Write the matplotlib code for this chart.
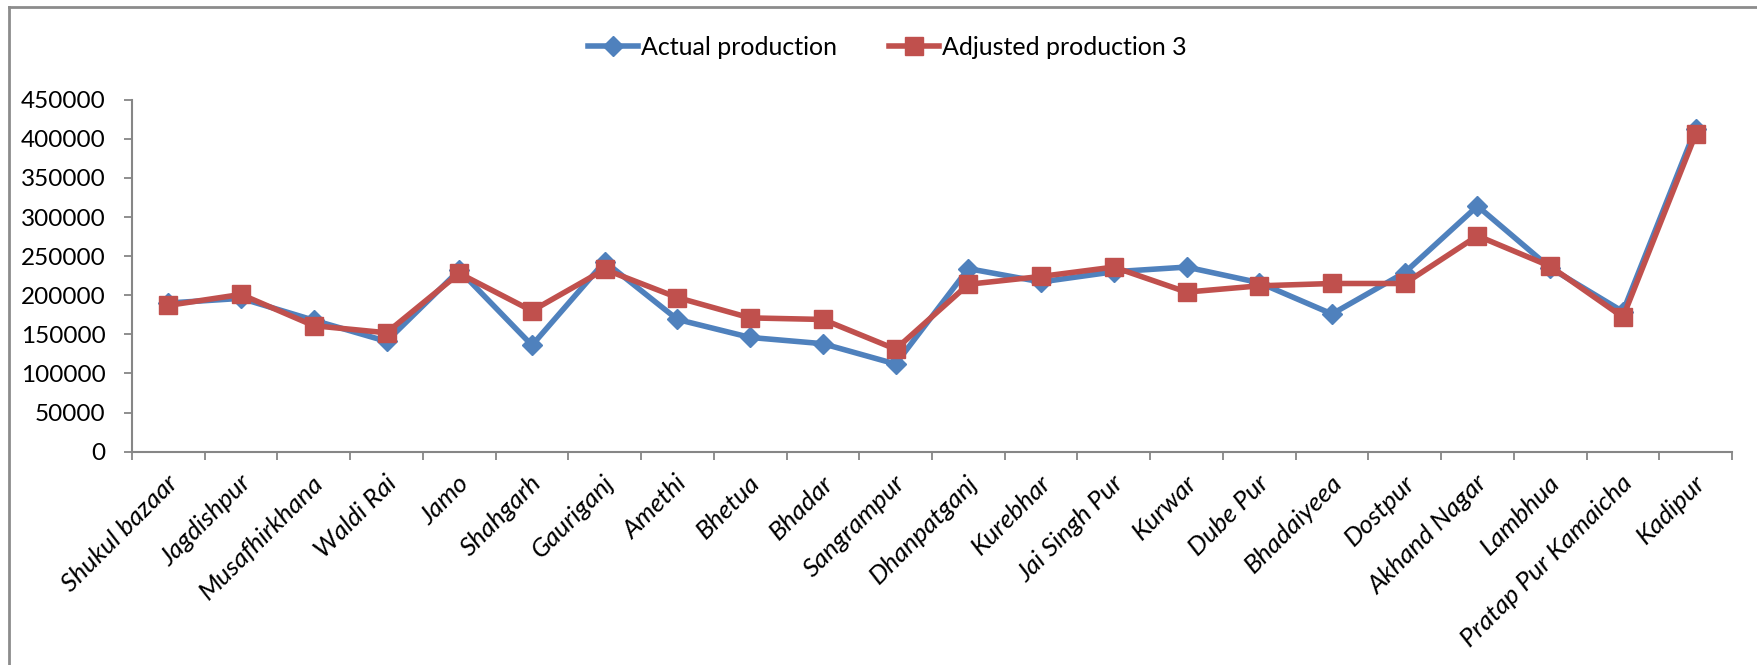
import matplotlib
matplotlib.use("Agg")
import matplotlib.pyplot as plt
from matplotlib.lines import Line2D
from matplotlib.ticker import FixedLocator, NullFormatter
import numpy as np

plt.rcParams['font.family'] = ['Lato', 'DejaVu Sans']

blocks = ["Shukul bazaar", "Jagdishpur", "Musafhirkhana", "Waldi Rai", "Jamo",
          "Shahgarh", "Gauriganj", "Amethi", "Bhetua", "Bhadar", "Sangrampur",
          "Dhanpatganj", "Kurebhar", "Jai Singh Pur", "Kurwar", "Dube Pur",
          "Bhadaiyeea", "Dostpur", "Akhand Nagar", "Lambhua",
          "Pratap Pur Kamaicha", "Kadipur"]

actual_production = [190000, 196000, 168000, 141000, 232000, 136000, 243000,
                     169000, 146000, 138000, 112000, 234000, 217000, 230000,
                     236000, 216000, 176000, 229000, 314000, 235000, 179000,
                     413000]

adjusted_production_3 = [187000, 201000, 161000, 152000, 228000, 180000, 233000,
                         197000, 171000, 169000, 131000, 214000, 224000, 236000,
                         204000, 212000, 215000, 215000, 276000, 237000, 172000,
                         406000]

y_ticks = [0, 50000, 100000, 150000, 200000, 250000, 300000, 350000, 400000, 450000]

BLUE = "#4F81BD"
RED = "#C0504D"
AXIS_GREY = "#868686"

fig = plt.figure(figsize=(17.57, 6.65), dpi=100)
ax = fig.add_axes([0.0751, 0.3209, 0.9858 - 0.0751, 0.850 - 0.3209])

x = np.arange(len(blocks))
ax.plot(x, actual_production, color=BLUE, lw=4.0, marker='D', markersize=10.5,
        label="Actual production", solid_joinstyle='round')
ax.plot(x, adjusted_production_3, color=RED, lw=4.0, marker='s', markersize=13,
        label="Adjusted production 3", solid_joinstyle='round')

ax.set_xlim(-0.5, len(blocks) - 0.5)
ax.set_ylim(0, 450000)
ax.set_yticks(y_ticks)
ax.set_yticklabels([str(v) for v in y_ticks], fontsize=17.5)

ax.set_xticks(x)
ax.set_xticklabels(blocks, rotation=45, ha='right', va='center',
                   rotation_mode='anchor', fontsize=18.8, fontstyle='italic')
ax.tick_params(axis='x', which='major', length=0, pad=20)
ax.xaxis.set_minor_locator(FixedLocator(np.arange(-0.5, len(blocks), 1.0)))
ax.xaxis.set_minor_formatter(NullFormatter())
ax.tick_params(axis='x', which='minor', length=6, width=1.3, color=AXIS_GREY,
               direction='out')
ax.tick_params(axis='y', length=6, width=1.3, color=AXIS_GREY, direction='out',
               pad=13)

# nudge category labels slightly right of their tick centres
from matplotlib.transforms import ScaledTranslation
for lbl in ax.get_xticklabels():
    lbl.set_transform(lbl.get_transform() + ScaledTranslation(6 / 100, 0, fig.dpi_scale_trans))

for side in ('top', 'right'):
    ax.spines[side].set_visible(False)
for side in ('left', 'bottom'):
    ax.spines[side].set_color(AXIS_GREY)
    ax.spines[side].set_linewidth(1.5)

leg = fig.legend(loc='center', bbox_to_anchor=(0.505, 0.929), ncol=2,
                 frameon=False, fontsize=18, handlelength=2.0,
                 columnspacing=2.1, handletextpad=0.12)

# chart-area border (top and left edges)
fig.add_artist(Line2D([9 / 1757, 1.0], [1 - 7 / 665, 1 - 7 / 665],
                      transform=fig.transFigure, color="#8C8C8C", lw=2))
fig.add_artist(Line2D([9 / 1757, 9 / 1757], [0.0, 1 - 7 / 665],
                      transform=fig.transFigure, color="#8C8C8C", lw=2))

fig.savefig("out.png", dpi=100, facecolor="white")
